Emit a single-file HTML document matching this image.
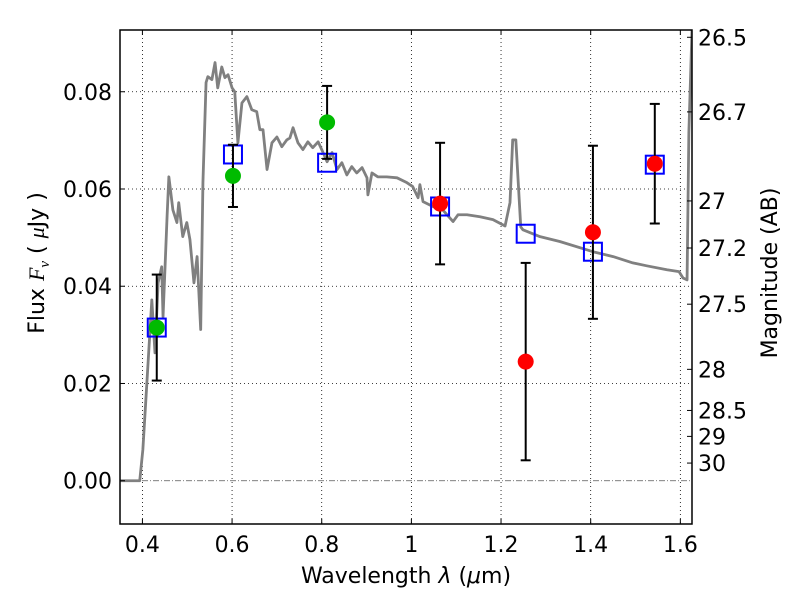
<!DOCTYPE html>
<html><head><meta charset="utf-8"><style>
html,body{margin:0;padding:0;background:#fff;}
svg text{font-family:"DejaVu Sans","Liberation Sans",sans-serif;}
</style></head><body>
<svg id="chart" width="800" height="600" xmlns="http://www.w3.org/2000/svg">
<rect width="800" height="600" fill="#fff"/>
<g id="grid"></g>
<g id="plot"></g>
<g id="axes"></g>
</svg>
<script>
const specLam=[0.35,0.394,0.401,0.410,0.421,0.428,0.435,0.443,0.446,0.455,0.459,0.468,0.477,0.481,0.490,0.499,0.506,0.515,0.522,0.530,0.535,0.542,0.546,0.555,0.562,0.568,0.577,0.584,0.591,0.600,0.606,0.613,0.622,0.633,0.644,0.655,0.662,0.669,0.678,0.689,0.700,0.711,0.722,0.729,0.736,0.747,0.758,0.769,0.780,0.792,0.803,0.812,0.823,0.834,0.845,0.856,0.867,0.878,0.890,0.901,0.903,0.912,0.925,0.945,0.968,0.990,1.003,1.015,1.019,1.026,1.048,1.070,1.093,1.104,1.124,1.153,1.182,1.209,1.220,1.226,1.233,1.244,1.249,1.287,1.331,1.405,1.450,1.494,1.525,1.570,1.597,1.606,1.615,1.619,1.626,1.63];
const specFlux=[0,0,0.0064,0.0202,0.0372,0.0263,0.0407,0.0440,0.0337,0.0543,0.0625,0.0557,0.0531,0.0572,0.0502,0.0531,0.0496,0.0407,0.0461,0.0311,0.0613,0.0819,0.0831,0.0825,0.0860,0.0808,0.0851,0.0829,0.0835,0.0808,0.0800,0.0695,0.0777,0.0790,0.0763,0.0759,0.0722,0.0722,0.0640,0.0695,0.0707,0.0687,0.0701,0.0705,0.0726,0.0695,0.0681,0.0697,0.0685,0.0697,0.0675,0.0656,0.0675,0.0640,0.0654,0.0629,0.0646,0.0633,0.0644,0.0623,0.0588,0.0633,0.0625,0.0625,0.0623,0.0613,0.0605,0.0582,0.0609,0.0574,0.0564,0.0557,0.0533,0.0547,0.0547,0.0543,0.0537,0.0524,0.0572,0.0701,0.0701,0.0522,0.0516,0.0502,0.0492,0.0471,0.0461,0.0448,0.0442,0.0434,0.0430,0.0417,0.0413,0.0716,0.0927,0.10];
const greenLam=[0.432,0.602,0.812];
const greenFlux=[0.0315,0.0627,0.0737];
const greenErr=[0.0109,0.0064,0.0075];
const redLam=[1.064,1.255,1.405,1.543];
const redFlux=[0.0570,0.0245,0.0511,0.0652];
const redErr=[0.0125,0.0203,0.0178,0.0123];
const modelLam=[0.432,0.602,0.812,1.064,1.255,1.405,1.543];
const modelFlux=[0.0315,0.0671,0.0654,0.0564,0.0508,0.0471,0.0650];
const xTicks=[0.4,0.6,0.8,1.0,1.2,1.4,1.6];
const xTickLabels=["0.4","0.6","0.8","1","1.2","1.4","1.6"];
const yTicks=[0,0.02,0.04,0.06,0.08];
const yTickLabels=["0.00","0.02","0.04","0.06","0.08"];
const magTicks=[26.5,26.7,27,27.2,27.5,28,28.5,29,30];
const magTickLabels=["26.5","26.7","27","27.2","27.5","28","28.5","29","30"];

const L=120,R=692,T=30,B=524;
const xmin=0.35,xmax=1.626,ymin=-0.0089,ymax=0.0927;
const X=v=>L+(v-xmin)/(xmax-xmin)*(R-L);
const Y=v=>B-(v-ymin)/(ymax-ymin)*(B-T);
const NS="http://www.w3.org/2000/svg";
function mk(tag,attrs,parent){const e=document.createElementNS(NS,tag);for(const k in attrs)e.setAttribute(k,attrs[k]);parent.appendChild(e);return e;}
const grid=document.getElementById('grid'),plot=document.getElementById('plot'),axes=document.getElementById('axes');

const defs=mk('defs',{},document.getElementById('chart'));
const cp=mk('clipPath',{id:'clip'},defs);
mk('rect',{x:L,y:T,width:R-L,height:B-T},cp);
plot.setAttribute('clip-path','url(#clip)');

xTicks.forEach((t,i)=>{
  const g=mk('line',{x1:X(t),x2:X(t),y1:T,y2:B,stroke:'#000','stroke-width':0.8,'stroke-dasharray':'1,3'},grid);
  
  
  mk('line',{x1:X(t),x2:X(t),y1:B,y2:B-5,stroke:'#000','stroke-width':1},axes);
  mk('line',{x1:X(t),x2:X(t),y1:T,y2:T+5,stroke:'#000','stroke-width':1},axes);
  const tx=mk('text',{x:X(t),y:B+28,'text-anchor':'middle','font-size':22},axes);
  tx.textContent=xTickLabels[i];
  
  
});
yTicks.forEach((t,i)=>{
  if(t!==0){
    const g=mk('line',{x1:L,x2:R,y1:Y(t),y2:Y(t),stroke:'#000','stroke-width':0.8,'stroke-dasharray':'1,3'},grid);
    
    
  }
  mk('line',{x1:L,x2:L+5,y1:Y(t),y2:Y(t),stroke:'#000','stroke-width':1},axes);
  const tx=mk('text',{x:L-8,y:Y(t)+8,'text-anchor':'end','font-size':22},axes);
  tx.textContent=yTickLabels[i];
  
  
});
const zl=mk('line',{x1:L,x2:R,y1:Y(0),y2:Y(0),stroke:'#555','stroke-width':0.8,'stroke-dasharray':'6,2,1,2'},grid);



magTicks.forEach((m,i)=>{
  const f=Math.pow(10,(23.9-m)/2.5);
  mk('line',{x1:R,x2:R-5,y1:Y(f),y2:Y(f),stroke:'#000','stroke-width':1},axes);
  const tx=mk('text',{x:R+6,y:Y(f)+8,'text-anchor':'start','font-size':22},axes);
  tx.textContent=magTickLabels[i];
  
  
});

const sp=mk('polyline',{points:specLam.map((l,i)=>X(l)+','+Y(specFlux[i])).join(' '),fill:'none',stroke:'#808080','stroke-width':2.8,'stroke-linejoin':'round'},plot);



modelLam.forEach((l,i)=>{
  const s=mk('rect',{x:X(l)-9,y:Y(modelFlux[i])-9,width:18,height:18,fill:'none',stroke:'#0000ff','stroke-width':2},plot);
  
  
});
function pts(lams,fl,er,col,nm){
  lams.forEach((l,i)=>{
    const x=X(l),y1=Y(fl[i]+er[i]),y2=Y(fl[i]-er[i]);
    const g=mk('g',{},plot);
    
    
    mk('line',{x1:x,x2:x,y1:y1,y2:y2,stroke:'#000','stroke-width':2},g);
    mk('line',{x1:x-5,x2:x+5,y1:y1,y2:y1,stroke:'#000','stroke-width':2},g);
    mk('line',{x1:x-5,x2:x+5,y1:y2,y2:y2,stroke:'#000','stroke-width':2},g);
    const c=mk('circle',{cx:x,cy:Y(fl[i]),r:8,fill:col},plot);
    
    
  });
}
pts(greenLam,greenFlux,greenErr,'#00bb00','hst-flux');
pts(redLam,redFlux,redErr,'#ff0000','ir-flux');

const fr=mk('rect',{x:L,y:T,width:R-L,height:B-T,fill:'none',stroke:'#000','stroke-width':1.5},axes);



const xl=mk('text',{x:406,y:583,'text-anchor':'middle','font-size':22},axes);
xl.innerHTML='Wavelength  <tspan font-style="italic">λ</tspan> (<tspan font-style="italic">μ</tspan>m)';


const yl=mk('text',{x:0,y:0,'text-anchor':'middle','font-size':22,transform:'translate(44,263) rotate(-90)'},axes);
yl.innerHTML='Flux  <tspan font-family="Liberation Serif, serif" font-style="italic">F<tspan font-size="15" dy="5">ν</tspan></tspan><tspan dy="-5">  ( </tspan><tspan font-family="Liberation Serif, serif" font-style="italic">μ</tspan>Jy )';


const ml=mk('text',{x:0,y:0,'text-anchor':'middle','font-size':22,transform:'translate(777,273) rotate(-90)'},axes);
ml.textContent='Magnitude (AB)';


</script>
</body></html>
